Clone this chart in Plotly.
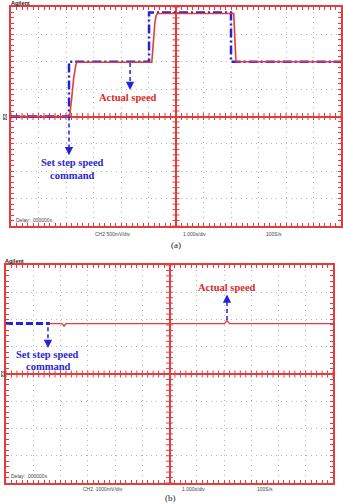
import numpy as np
import plotly.graph_objects as go

# ---------------- data (time in s relative to screen centre, value in divisions) -------------
a_cmd_t = [-6.0, -3.89, -3.89, -0.98, -0.98, 2.0, 2.0, 6.0]
a_cmd_v = [0.0, 0.0, 2.0, 2.0, 3.8, 3.8, 2.0, 2.0]
a_act_t = [-6.0, -3.87, -3.80, -3.72, -3.64, -3.60, -0.88, -0.83, -0.77, -0.72, -0.68, 2.10, 2.14, 2.18, 6.0]
a_act_v = [0.0, 0.0, 0.6, 1.4, 1.9, 1.98, 1.98, 2.7, 3.4, 3.7, 3.76, 3.76, 2.8, 2.0, 2.0]

b_cmd_t = [-6.0, -4.39]
b_cmd_v = [1.85, 1.85]
b_act_t = [-4.39, -3.95, -3.87, -3.80, 2.02, 2.11, 2.20, 6.0]
b_act_v = [1.85, 1.85, 1.76, 1.85, 1.85, 1.96, 1.85, 1.85]

a_scale = ["CH2 500mV/div", "1.000s/div", "100S/s"]
b_scale = ["CH2  1000mV/div", "1.000s/div", "100S/s"]

W, H = 343, 504
RED = "rgb(228,60,60)"
BLUE = "rgb(35,35,215)"
TXT_RED = "rgb(225,40,40)"
TXT_BLUE = "rgb(40,40,210)"


def px(x):
    return x / W


def py(y):
    return 1 - y / H


fig = go.Figure()

# center-line tick marks
cx = np.round(np.arange(-6, 6.001, 0.2), 3)
cy = np.round(np.arange(-4, 4.001, 0.2), 3)
for xa, ya in (("x", "y"), ("x2", "y2")):
    fig.add_trace(go.Scatter(x=cx, y=np.zeros_like(cx), mode="markers", xaxis=xa, yaxis=ya,
                             marker=dict(symbol="line-ns", size=5, line=dict(color=RED, width=1)),
                             hoverinfo="skip", showlegend=False))
    fig.add_trace(go.Scatter(x=np.zeros_like(cy), y=cy, mode="markers", xaxis=xa, yaxis=ya,
                             marker=dict(symbol="line-ew", size=5, line=dict(color=RED, width=1)),
                             hoverinfo="skip", showlegend=False))

# panel (a)
fig.add_trace(go.Scatter(x=a_cmd_t, y=a_cmd_v, mode="lines", xaxis="x", yaxis="y",
                         line=dict(color=BLUE, width=2.5, dash="9px,3px,2px,3px"), showlegend=False))
fig.add_trace(go.Scatter(x=a_act_t, y=a_act_v, mode="lines", xaxis="x", yaxis="y",
                         line=dict(color=RED, width=1.6), showlegend=False))
# panel (b)
fig.add_trace(go.Scatter(x=b_act_t, y=b_act_v, mode="lines", xaxis="x2", yaxis="y2",
                         line=dict(color=RED, width=1.4), showlegend=False))
fig.add_trace(go.Scatter(x=b_cmd_t, y=b_cmd_v, mode="lines", xaxis="x2", yaxis="y2",
                         line=dict(color=BLUE, width=3, dash="7px,3px"), showlegend=False))

axis_common = dict(showticklabels=False, showgrid=True, gridcolor="#b4b4b4", griddash="1px,4px",
                   gridwidth=1, zeroline=True, zerolinecolor=RED, zerolinewidth=1.5,
                   showline=True, linecolor=RED, linewidth=2, mirror="ticks",
                   ticks="inside", ticklen=3, tickcolor=RED, tickwidth=1, fixedrange=True,
                   minor=dict(dtick=0.2, ticks="inside", ticklen=3, tickcolor=RED, tickwidth=1,
                              showgrid=False))

fig.update_layout(
    width=W, height=H, autosize=False,
    margin=dict(l=0, r=0, t=0, b=0),
    paper_bgcolor="white", plot_bgcolor="white",
    xaxis=dict(domain=[px(11), px(341)], range=[-6, 6], dtick=1, anchor="y", **axis_common),
    yaxis=dict(domain=[py(226), py(7)], range=[-4, 4], dtick=1, anchor="x", **axis_common),
    xaxis2=dict(domain=[px(6), px(333)], range=[-6, 6], dtick=1, anchor="y2", **axis_common),
    yaxis2=dict(domain=[py(483), py(265)], range=[-4, 4], dtick=1, anchor="x2", **axis_common),
)

# dashed arrow shafts
shafts = [("x", "y", -3.89, 0.0, -3.89, -1.35), ("x", "y", -1.67, 1.95, -1.67, 1.05),
          ("x2", "y2", -4.46, 1.72, -4.46, 1.02), ("x2", "y2", 2.11, 1.98, 2.11, 2.85)]
for xr, yr, x0, y0, x1, y1 in shafts:
    fig.add_shape(type="line", xref=xr, yref=yr, x0=x0, y0=y0, x1=x1, y1=y1,
                  line=dict(color=BLUE, width=1.5, dash="4px,3px"))
heads = [("x", "y", -3.89, -1.42, -6), ("x", "y", -1.67, 0.97, -6),
         ("x2", "y2", -4.46, 0.95, -6), ("x2", "y2", 2.11, 2.92, 6)]
for xr, yr, x, y, ay in heads:
    fig.add_annotation(xref=xr, yref=yr, x=x, y=y, ax=0, ay=ay, text="", showarrow=True,
                       arrowhead=2, arrowsize=1.1, arrowwidth=1.5, arrowcolor=BLUE)

SERIF = "Liberation Serif, Times New Roman, serif"
SANS = "Liberation Sans, Arial, sans-serif"


def label(x, y, text, size, color, family, xanchor="center", box=False):
    fig.add_annotation(xref="paper", yref="paper", x=px(x), y=py(y), text=text, showarrow=False,
                       xanchor=xanchor, yanchor="middle", font=dict(size=size, color=color, family=family),
                       bordercolor="#555" if box else None, borderwidth=0.6 if box else 0,
                       borderpad=0)


# panel a labels
label(128, 98, "<b>Actual speed</b>", 10.5, TXT_RED, SERIF)
label(72, 163, "<b>Set step speed</b>", 10.5, TXT_BLUE, SERIF)
label(72, 175, "<b>command</b>", 10.5, TXT_BLUE, SERIF)
label(11, 3.5, "<b>Agilent</b>", 5.5, "#222", SANS, "left")
label(16, 220, "Delay: .000000s", 5, "#444", SANS, "left")
label(113, 234, a_scale[0], 5, "#444", SANS)
label(194, 234, a_scale[1], 5, "#444", SANS)
label(274, 234, a_scale[2], 5, "#444", SANS)
label(176, 245, "(a)", 9, "#222", SERIF)
label(5, 117, "2", 4.5, "#333", SANS, box=True)

# panel b labels
label(227, 287, "<b>Actual speed</b>", 10.5, TXT_RED, SERIF)
label(47.5, 354, "<b>Set step speed</b>", 10.5, TXT_BLUE, SERIF)
label(47.5, 366, "<b>command</b>", 10.5, TXT_BLUE, SERIF)
label(5, 261, "<b>Agilent</b>", 5.5, "#222", SANS, "left")
label(11, 476, "Delay: .000000s", 5, "#444", SANS, "left")
label(103, 489, b_scale[0], 5, "#444", SANS)
label(193, 489, b_scale[1], 5, "#444", SANS)
label(265, 489, b_scale[2], 5, "#444", SANS)
label(170, 498, "(b)", 9, "#222", SERIF)
label(3, 374, "2", 4.5, "#333", SANS, box=True)

fig.write_html("out.html", config={"displayModeBar": False})
